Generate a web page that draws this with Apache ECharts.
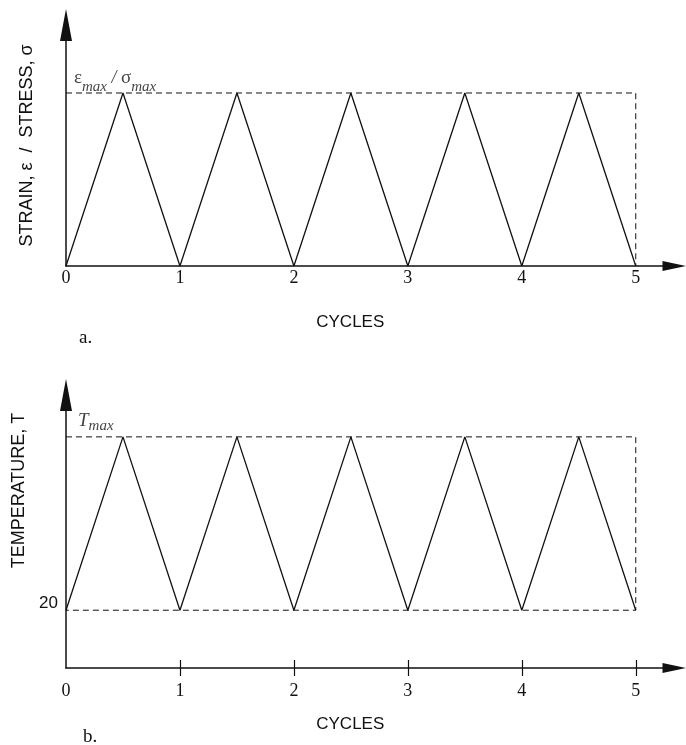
<!DOCTYPE html>
<html>
<head>
<meta charset="utf-8">
<script src="https://cdn.jsdelivr.net/npm/echarts@6/dist/echarts.min.js"></script>
<style>
  html, body { margin: 0; padding: 0; background: #fff; }
  #chart { width: 686px; height: 745px; }
</style>
</head>
<body>
<div id="chart"></div>
<script>
// Load cycle: time axis in cycles, triangular waveform between 0 and the peak
const cycles = [0, 0.5, 1, 1.5, 2, 2.5, 3, 3.5, 4, 4.5, 5];
// (a) strain / stress, normalised to its maximum
const strain = [0, 1, 0, 1, 0, 1, 0, 1, 0, 1, 0];
// (b) temperature, cycling between 20 and T_max
const temperature = [20, 80, 20, 80, 20, 80, 20, 80, 20, 80, 20];
// tick labels
const cycleTicks = [0, 1, 2, 3, 4, 5];
const cycleTickMarks = [1, 2, 3, 4, 5];
const tempTicks = [20];

const strainMax = Math.max(...strain);
const tMax = Math.max(...temperature);
const tMin = Math.min(...temperature);
const lastCycle = cycles[cycles.length - 1];

const ink = '#111';
const serif = '"Liberation Serif", "DejaVu Serif", serif';
const sans = '"Liberation Sans", Arial, sans-serif';

function pairs(xs, ys) { return xs.map((x, i) => [x, ys[i]]); }

// dashed envelopes
const strainEnvelope = [[0, strainMax], [lastCycle, strainMax], [lastCycle, 0]];
const tempEnvelope = [[0, tMax], [lastCycle, tMax], [lastCycle, tMin], [0, tMin]];

const subRich = {
  g: { fontFamily: serif, fontSize: 19, color: ink, lineHeight: 22, verticalAlign: 'top' },
  gs: { fontFamily: serif, fontSize: 19, color: ink, lineHeight: 26, verticalAlign: 'top' },
  T: { fontFamily: serif, fontStyle: 'italic', fontSize: 19, color: ink, lineHeight: 22, verticalAlign: 'top' },
  sl: { fontFamily: serif, fontStyle: 'italic', fontSize: 18, color: ink, lineHeight: 22, verticalAlign: 'top' },
  s: { fontFamily: serif, fontStyle: 'italic', fontSize: 15, color: ink, lineHeight: 15, verticalAlign: 'bottom' }
};

function xAxisBase(grid) {
  return {
    type: 'value', gridIndex: grid, min: 0, max: 5.34, interval: 1,
    position: 'bottom',
    axisLine: { show: true, onZero: false, symbol: ['none', 'triangle'], symbolSize: [10, 24],
      lineStyle: { color: ink, width: 1.5 } },
    splitLine: { show: false },
    name: 'CYCLES', nameLocation: 'middle',
    nameTextStyle: { fontFamily: sans, fontSize: 17, color: ink, padding: [0, 40, 0, 0] },
    axisLabel: { customValues: cycleTicks, fontFamily: serif, fontSize: 18, color: ink }
  };
}

const option = {
  animation: false,
  backgroundColor: '#fff',
  grid: [
    { left: 66, top: 25, width: 608.5, height: 241 },
    { left: 66, top: 395, width: 608.5, height: 273 }
  ],
  title: [
    { text: 'a.', left: 74, top: 324, textStyle: { fontFamily: serif, fontSize: 19, fontWeight: 'normal', color: ink } },
    { text: 'b.', left: 78, top: 723, textStyle: { fontFamily: serif, fontSize: 19, fontWeight: 'normal', color: ink } }
  ],
  xAxis: [
    Object.assign(xAxisBase(0), {
      nameGap: 48,
      axisTick: { show: false },
      axisLabel: { customValues: cycleTicks, fontFamily: serif, fontSize: 18, color: ink, margin: 3 }
    }),
    Object.assign(xAxisBase(1), {
      nameGap: 48,
      axisTick: { show: true, customValues: cycleTickMarks, length: 8, lineStyle: { color: ink, width: 1.2 } },
      axisLabel: { customValues: cycleTicks, fontFamily: serif, fontSize: 18, color: ink, margin: 14 }
    }),
    // upper half of the crossing tick marks on panel b
    {
      type: 'value', gridIndex: 1, min: 0, max: 5.34, interval: 1, position: 'bottom',
      axisLine: { show: false },
      axisTick: { show: true, inside: true, customValues: cycleTickMarks, length: 8, lineStyle: { color: ink, width: 1.2 } },
      axisLabel: { show: false }, splitLine: { show: false }
    }
  ],
  yAxis: [
    {
      type: 'value', gridIndex: 0, min: 0, max: 1.393,
      axisLine: { show: true, symbol: ['none', 'triangle'], symbolSize: [12, 32],
        lineStyle: { color: ink, width: 1.5 } },
      axisTick: { show: false }, axisLabel: { show: false }, splitLine: { show: false },
      name: 'STRAIN, \u03b5  /  STRESS, \u03c3', nameLocation: 'middle', nameGap: 30,
      nameTextStyle: { fontFamily: sans, fontSize: 18, color: ink }
    },
    {
      type: 'value', gridIndex: 1, min: 0, max: 94.5,
      axisLine: { show: true, symbol: ['none', 'triangle'], symbolSize: [12, 32],
        lineStyle: { color: ink, width: 1.5 } },
      axisTick: { show: false }, splitLine: { show: false },
      axisLabel: { customValues: tempTicks, fontFamily: sans, fontSize: 17, color: ink, margin: 8,
        verticalAlign: 'bottom', lineHeight: 13 },
      name: 'TEMPERATURE, T', nameLocation: 'middle', nameGap: 36,
      nameTextStyle: { fontFamily: sans, fontSize: 18, color: ink, padding: [0, 0, 0, 82] }
    }
  ],
  series: [
    {
      type: 'line', xAxisIndex: 0, yAxisIndex: 0, data: strainEnvelope, symbol: 'none',
      lineStyle: { color: ink, width: 1, type: [6, 4] }, silent: true
    },
    {
      type: 'line', xAxisIndex: 0, yAxisIndex: 0, data: pairs(cycles, strain), symbol: 'none',
      lineStyle: { color: ink, width: 1.3 }, silent: true
    },
    {
      type: 'scatter', xAxisIndex: 0, yAxisIndex: 0, data: [[0, strainMax]], symbolSize: 0, silent: true,
      label: {
        show: true, position: [8, -24],
        formatter: '{g|\u03b5}{s|max}{sl| / }{gs|\u03c3}{s|max}',
        rich: subRich
      }
    },
    {
      type: 'line', xAxisIndex: 1, yAxisIndex: 1, data: tempEnvelope, symbol: 'none',
      lineStyle: { color: ink, width: 1, type: [6, 4] }, silent: true
    },
    {
      type: 'line', xAxisIndex: 1, yAxisIndex: 1, data: pairs(cycles, temperature), symbol: 'none',
      lineStyle: { color: ink, width: 1.3 }, silent: true
    },
    {
      type: 'scatter', xAxisIndex: 1, yAxisIndex: 1, data: [[0, tMax]], symbolSize: 0, silent: true,
      label: {
        show: true, position: [12, -25],
        formatter: '{T|T}{s|max}',
        rich: subRich
      }
    }
  ]
};

const chart = echarts.init(document.getElementById('chart'), null, { renderer: 'canvas' });
chart.setOption(option);
</script>
</body>
</html>
